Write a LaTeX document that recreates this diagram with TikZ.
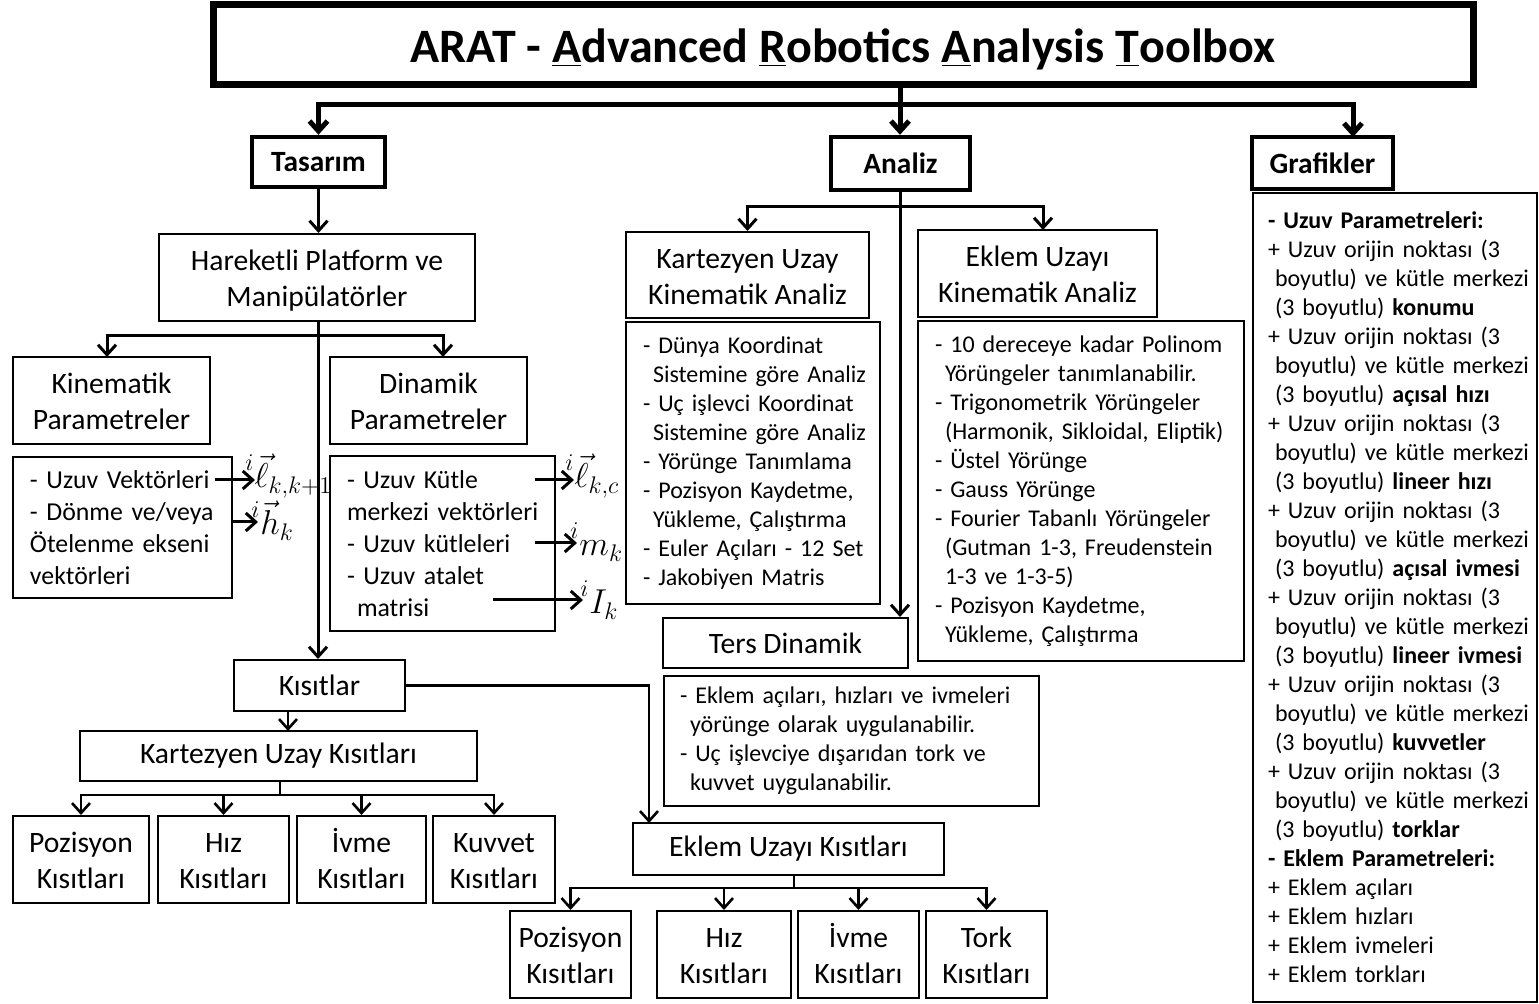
\documentclass[tikz,border=0pt]{standalone}
\usepackage[no-math]{fontspec}
\setmainfont{Carlito}
\usetikzlibrary{arrows.meta,calc}
\newcommand\fbig{\fontsize{14.8}{18}\selectfont}
\newcommand\fmid{\fontsize{12.9}{16}\selectfont}
\newcommand\fsml{\fontsize{12}{14.5}\selectfont}
\newcommand\fhead{\fontsize{14.7}{17}\selectfont\bfseries}
\newcommand\fmath{\fontsize{17}{20}\selectfont}
\newcommand\li[1]{\mbox{#1}}
\newcommand\ind{\hspace*{5pt}}
\newcommand\gind{\hspace*{3.5pt}}
\newcommand\lstrut{\rule[-0.8pt]{0pt}{12.8pt}}
\newcommand\tl[2]{\lstrut\smash{#1}\\\lstrut\smash{#2}}
\newcommand\supi[1]{{}^{\raisebox{2.5pt}{$\scriptstyle #1$}}}
\begin{document}
\begin{tikzpicture}[x=0.5pt,y=-0.5pt,
  box/.style={draw, line width=1pt, inner sep=0pt, align=center, font=\fbig},
  hbox/.style={draw, line width=2.2pt, inner sep=0pt, font=\fhead},
  listbox/.style={draw, line width=1pt, align=left, inner ysep=0pt},
  arr/.style={-{Straight Barb[length=5pt,width=9pt]}},
  c1/.style={line width=2.5pt, arr},
  c2/.style={line width=1.5pt, arr},
  c3/.style={line width=1.3pt, arr},
  mlab/.style={anchor=base west, inner sep=0pt, font=\fmath}]
\useasboundingbox (0,0) rectangle (1539,1004);

% title and level 1
\node[draw, line width=3.5pt, minimum width=630pt, minimum height=40pt, inner sep=0pt,
      text height=20pt, text depth=2pt,
      font=\fontsize{24}{28}\selectfont\bfseries] (title) at (843,45)
  {ARAT - \underline{A}dvanced \underline{R}obotics \underline{A}nalysis \underline{T}oolbox};
\node[hbox, minimum width=66.5pt, minimum height=25pt] (tasarim) at (318.5,162) {Tasar\i m};
\node[hbox, minimum width=69.5pt, minimum height=26.5pt] (analiz) at (900.5,163.5) {Analiz};
\node[hbox, minimum width=70.5pt, minimum height=26pt] (grafik) at (1322.5,163) {Grafikler};

% Tasarim branch
\node[box, minimum width=158pt, minimum height=43.5pt] (harek) at (317,277.5) {\tl{Hareketli Platform ve}{Manipülatörler}};
\node[box, minimum width=98.5pt, minimum height=43.5pt] (kinp) at (111.5,400.5) {\tl{Kinematik}{Parametreler}};
\node[box, minimum width=98.5pt, minimum height=43.5pt] (dinp) at (428.5,400.5) {\tl{Dinamik}{Parametreler}};
\node[listbox, font=\fmid, minimum width=109.5pt, minimum height=70.5pt, inner xsep=8.5pt, text width=92.5pt] (kinl) at (122.5,527.5)
  {\li{- Uzuv Vektörleri}\\\li{- Dönme ve/veya}\\\li{Ötelenme ekseni}\\\li{vektörleri}};
\node[listbox, font=\fmid, minimum width=112.5pt, minimum height=87.5pt, inner xsep=8.5pt, text width=95.5pt] (dinl) at (442.5,543.5)
  {\li{- Uzuv Kütle}\\\li{merkezi vektörleri}\\\li{- Uzuv kütleleri}\\\li{- Uzuv atalet}\\\li{\ind matrisi}};

\node[mlab] (lkk) at (245,488) {$\supi{i}\vec{\ell}_{k,k+1}$};
\node[mlab] (hk) at (251,535) {$\supi{i}\vec{h}_{k}$};
\node[mlab] (lkc) at (565,488) {$\supi{i}\vec{\ell}_{k,c}$};
\node[mlab] (mk) at (570,556) {$\supi{i}m_{k}$};
\node[mlab] (Ik) at (580,614) {$\supi{i}I_{k}$};

\node[box, minimum width=85.5pt, minimum height=25.5pt] (kis) at (319.5,685.5) {K\i s\i tlar};
\node[box, minimum width=198.5pt, minimum height=25pt] (kkis) at (278.5,756) {Kartezyen Uzay K\i s\i tlar\i};
\node[box, minimum width=68pt, minimum height=43.5pt] (kp) at (81,859.5) {\tl{Pozisyon}{K\i s\i tlar\i}};
\node[box, minimum width=65.5pt, minimum height=43.5pt] (kh) at (223.5,859.5) {\tl{H\i z}{K\i s\i tlar\i}};
\node[box, minimum width=64.5pt, minimum height=43.5pt] (ki) at (361.5,859.5) {\tl{İvme}{K\i s\i tlar\i}};
\node[box, minimum width=61pt, minimum height=43.5pt] (kk) at (494,859.5) {\tl{Kuvvet}{K\i s\i tlar\i}};

\node[box, minimum width=155.5pt, minimum height=26pt] (ekis) at (788.5,849) {Eklem Uzay\i{} K\i s\i tlar\i};
\node[box, minimum width=60.5pt, minimum height=43.5pt] (ep) at (570.5,954.5) {\tl{Pozisyon}{K\i s\i tlar\i}};
\node[box, minimum width=67pt, minimum height=43.5pt] (eh) at (724,954.5) {\tl{H\i z}{K\i s\i tlar\i}};
\node[box, minimum width=60.5pt, minimum height=43.5pt] (ei) at (858.5,954.5) {\tl{İvme}{K\i s\i tlar\i}};
\node[box, minimum width=60.5pt, minimum height=43.5pt] (et) at (986.5,954.5) {\tl{Tork}{K\i s\i tlar\i}};

% Analiz branch
\node[box, minimum width=121.5pt, minimum height=43pt] (kkin) at (747.5,275) {\tl{Kartezyen Uzay}{Kinematik Analiz}};
\node[box, minimum width=119.5pt, minimum height=43.5pt] (ekin) at (1037.5,273.5) {\tl{Eklem Uzay\i}{Kinematik Analiz}};
\node[listbox, font=\fsml, minimum width=127pt, minimum height=141pt, inner xsep=8.5pt, text width=110pt] (kkl) at (753,463)
  {\li{- Dünya Koordinat}\\\li{\ind Sistemine göre Analiz}\\\li{- Uç işlevci Koordinat}\\\li{\ind Sistemine göre Analiz}\\%
   \li{- Yörünge Tan\i mlama}\\\li{- Pozisyon Kaydetme,}\\\li{\ind Yükleme, Çal\i ştırma}\\\li{- Euler Aç\i lar\i{} - 12 Set}\\\li{- Jakobiyen Matris}};
\node[listbox, font=\fsml, minimum width=163pt, minimum height=170pt, inner xsep=8.5pt, text width=146pt] (ekl) at (1081,491)
  {\li{- 10 dereceye kadar Polinom}\\\li{\ind Yörüngeler tan\i mlanabilir.}\\\li{- Trigonometrik Yörüngeler}\\\li{\ind (Harmonik, Sikloidal, Eliptik)}\\%
   \li{- Üstel Yörünge}\\\li{- Gauss Yörünge}\\\li{- Fourier Tabanl\i{} Yörüngeler}\\\li{\ind (Gutman 1-3, Freudenstein}\\\li{\ind 1-3 ve 1-3-5)}\\%
   \li{- Pozisyon Kaydetme,}\\\li{\ind Yükleme, Çal\i ştırma}};
\node[box, minimum width=122.5pt, minimum height=25pt] (ters) at (785.5,643) {Ters Dinamik};
\node[listbox, font=\fsml, minimum width=187.5pt, minimum height=65pt, inner xsep=8pt, text width=171.5pt] (tersl) at (851.5,741)
  {\li{- Eklem aç\i lar\i, h\i zlar\i{} ve ivmeleri}\\\li{\ind yörünge olarak uygulanabilir.}\\\li{- Uç işlevciye d\i şar\i dan tork ve}\\\li{\ind kuvvet uygulanabilir.}};

% Grafikler
\node[listbox, font=\fsml, minimum width=142pt, minimum height=404.5pt, inner xsep=7.5pt, text width=127pt] (grl) at (1395,597.5)
  {\li{\textbf{- Uzuv Parametreleri:}}\\%
   \li{+ Uzuv orijin noktas\i{} (3}\\\li{\gind boyutlu) ve kütle merkezi}\\\li{\gind (3 boyutlu) \textbf{konumu}}\\%
   \li{+ Uzuv orijin noktas\i{} (3}\\\li{\gind boyutlu) ve kütle merkezi}\\\li{\gind (3 boyutlu) \textbf{aç\i sal h\i z\i}}\\%
   \li{+ Uzuv orijin noktas\i{} (3}\\\li{\gind boyutlu) ve kütle merkezi}\\\li{\gind (3 boyutlu) \textbf{lineer h\i z\i}}\\%
   \li{+ Uzuv orijin noktas\i{} (3}\\\li{\gind boyutlu) ve kütle merkezi}\\\li{\gind (3 boyutlu) \textbf{aç\i sal ivmesi}}\\%
   \li{+ Uzuv orijin noktas\i{} (3}\\\li{\gind boyutlu) ve kütle merkezi}\\\li{\gind (3 boyutlu) \textbf{lineer ivmesi}}\\%
   \li{+ Uzuv orijin noktas\i{} (3}\\\li{\gind boyutlu) ve kütle merkezi}\\\li{\gind (3 boyutlu) \textbf{kuvvetler}}\\%
   \li{+ Uzuv orijin noktas\i{} (3}\\\li{\gind boyutlu) ve kütle merkezi}\\\li{\gind (3 boyutlu) \textbf{torklar}}\\%
   \li{\textbf{- Eklem Parametreleri:}}\\%
   \li{+ Eklem aç\i lar\i}\\\li{+ Eklem h\i zlar\i}\\\li{+ Eklem ivmeleri}\\\li{+ Eklem torklar\i}};

% coordinates
\coordinate (jT) at (900,105);
\coordinate (gIn) at (1353,137);
\coordinate (jH) at (318,336);
\coordinate (kIn) at (107,357);
\coordinate (dIn) at (443,357);
\coordinate (jA) at (900,207);
\coordinate (eIn) at (1043,230);
\coordinate (kkIn) at (288,731);
\coordinate (ekIn) at (649,823);
\coordinate (jK) at (280,795);
\coordinate (jE) at (794,888);
\coordinate (a1s) at (215,480); \coordinate (a1e) at (255,480);
\coordinate (a2s) at (232,522); \coordinate (a2e) at (258,522);
\coordinate (a3s) at (535,480); \coordinate (a3e) at (574,480);
\coordinate (a4s) at (535,543); \coordinate (a4e) at (577,543);
\coordinate (a5s) at (493,600); \coordinate (a5e) at (583,600);

% connectors level 1
\draw[c1] (title.south -| jT) -- (analiz.north -| jT);
\draw[c1] (jT) -| (tasarim.north);
\draw[c1] (jT) -| (gIn);
% Tasarim
\draw[c2] (tasarim.south) -- (tasarim.south |- harek.north);
\draw[c2] (harek.south -| jH) -- (jH) -| (kIn);
\draw[c2] (jH) -| (dIn);
\draw[c2] (jH) -- (jH |- kis.north);
\draw[c2] (a1s) -- (a1e);
\draw[c2] (a2s) -- (a2e);
\draw[c2] (a3s) -- (a3e);
\draw[c2] (a4s) -- (a4e);
\draw[c2] (a5s) -- (a5e);
\draw[c3] (kis.south -| kkIn) -- (kkIn);
\draw[c3] (kis.east) -| (ekIn);
\draw[c3] (kkis.south -| jK) -- (jK) -| (kp.north);
\draw[c3] (jK) -| (kh.north);
\draw[c3] (jK) -| (ki.north);
\draw[c3] (jK) -| (kk.north);
\draw[c3] (ekis.south -| jE) -- (jE) -| (ep.north);
\draw[c3] (jE) -| (eh.north);
\draw[c3] (jE) -| (ei.north);
\draw[c3] (jE) -| (et.north);
% Analiz
\draw[c2] (analiz.south -| jA) -- (jA) -| (kkin.north);
\draw[c2] (jA) -| (eIn);
\draw[c2] (jA) -- (jA |- ters.north);
\end{tikzpicture}
\end{document}
